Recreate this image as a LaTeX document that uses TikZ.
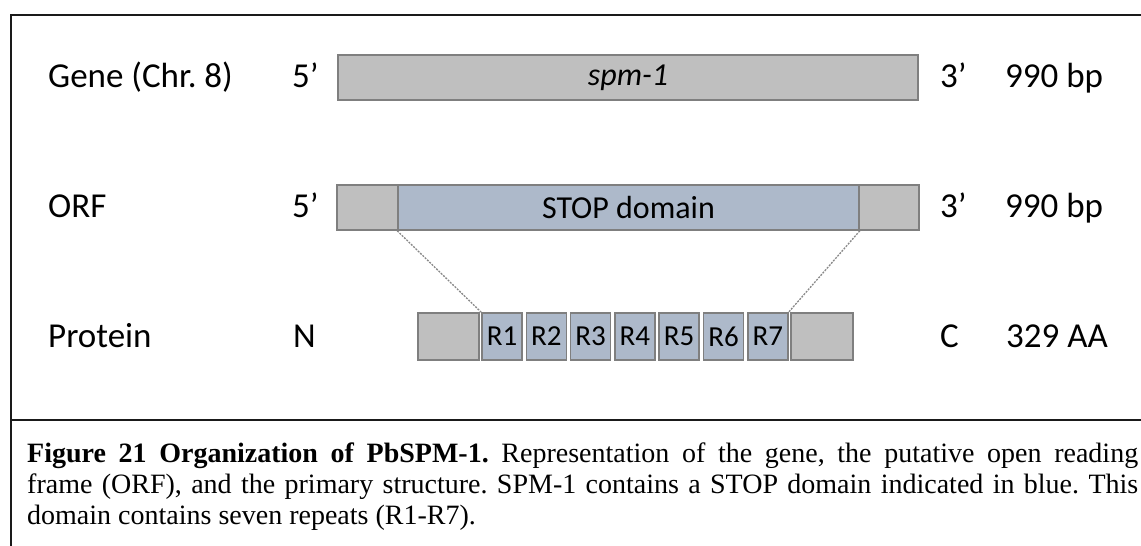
\documentclass[tikz,border=0pt]{standalone}
\usepackage{fontspec}
\setmainfont{Carlito}
\newfontfamily\capfont{Liberation Serif}
\definecolor{seggray}{HTML}{BFBFBF}
\definecolor{segblue}{HTML}{ADB9CA}
\definecolor{segline}{HTML}{7F7F7F}
\definecolor{linkline}{HTML}{888888}
\definecolor{framecol}{HTML}{1A1A1A}
\begin{document}
\begin{tikzpicture}[x=1pt,y=-1pt,
  seg/.style={draw=segline, line width=1.6pt, inner sep=0pt, minimum height=45pt},
  graybox/.style={seg, fill=seggray},
  bluebox/.style={seg, fill=segblue},
  rbox/.style={seg, fill=segblue, minimum width=40pt, minimum height=47pt,
               font=\fontsize{29}{32}\selectfont},
  pgray/.style={seg, fill=seggray, minimum height=47pt},
  lbl/.style={anchor=base west, inner sep=0pt, font=\fontsize{35}{40}\selectfont},
  inlbl/.style={font=\fontsize{32}{37}\selectfont},
  link/.style={draw=linkline, line width=1.3pt, dash pattern=on 2pt off 1.2pt},
  frame/.style={draw=framecol, line width=2pt}
]
\useasboundingbox (0,0) rectangle (1141,546);

% outer frame and caption divider
\draw[frame] (11,546) -- (11,15) -- (1141,15);
\draw[frame] (11,420) -- (1141,420);

% row 1: gene
\node[lbl] (tgene) at (48,87.5) {Gene (Chr.\ 8)};
\node[lbl] (g5) at (292,87.5) {5’};
\node[graybox, minimum width=580pt, inlbl] (gene) at (628,77.5) {\itshape spm-1};
\node[lbl] (g3) at (940,87.5) {3’};
\node[lbl] (glen) at (1005,87.5) {990 bp};

% row 2: open reading frame
\node[lbl] (torf) at (48,217.5) {ORF};
\node[lbl] (o5) at (292,217.5) {5’};
\node[graybox, minimum width=61pt] (oleft) at (367.5,207.5) {};
\node[bluebox, minimum width=461pt, inlbl] (stop) at (628.5,207.5) {STOP domain};
\node[graybox, minimum width=60pt] (oright) at (889,207.5) {};
\node[lbl] (o3) at (940,217.5) {3’};
\node[lbl] (olen) at (1005,217.5) {990 bp};

% row 3: protein with seven repeats
\node[lbl] (tprot) at (48,347) {Protein};
\node[lbl] (pn) at (293,347) {N};
\node[pgray, minimum width=61pt] (pleft) at (448.5,336.5) {};
\foreach \i in {1,...,7}{
  \node[rbox] (r\i) at ({502+(\i-1)*44.3},336.5) {R\i};
}
\node[pgray, minimum width=62pt] (pright) at (822,336.5) {};
\node[lbl] (pc) at (940,347) {C};
\node[lbl] (plen) at (1006,347) {329 AA};

% STOP domain mapped onto the repeats
\draw[link] (stop.south west) -- (r1.north west);
\draw[link] (stop.south east) -- (r7.north east);

% caption
\node[anchor=north west, inner sep=0pt, text width=1111pt, align=justify,
      font=\capfont\fontsize{28}{31}\selectfont] (caption) at (27,443)
{\frenchspacing\tolerance=10000 \textbf{Figure 21 Organization of PbSPM-1.} Representation of the gene, the putative open reading\linebreak
frame (ORF), and the primary structure. SPM-1 contains a STOP domain indicated in blue. This\linebreak
domain contains seven repeats (R1-R7).};
\end{tikzpicture}
\end{document}
